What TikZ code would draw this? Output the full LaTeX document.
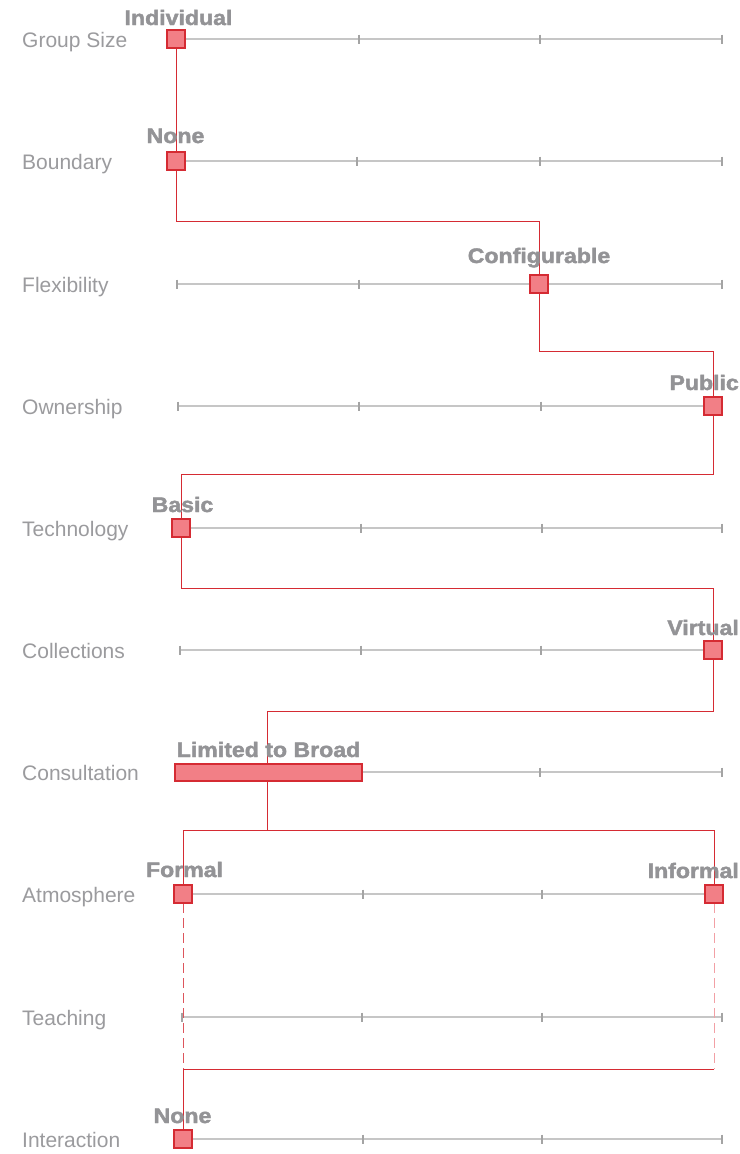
\documentclass[tikz,border=0pt]{standalone}
\usepackage{fontspec}
\setmainfont{Liberation Sans}
\newfontfamily\heavyfont[FakeStretch=1.1,FakeBold=2]{Liberation Sans Bold}
\usepackage{tikz}
\usetikzlibrary{positioning,calc}
\usepackage{xcolor}
\definecolor{railgray}{HTML}{C6C6C6}
\definecolor{notchgray}{HTML}{A4A4A4}
\definecolor{labelgray}{HTML}{9B9B9E}
\definecolor{valuegray}{HTML}{939396}
\definecolor{linkred}{HTML}{D52B33}
\definecolor{linkpink}{HTML}{F2A0A5}
\definecolor{pickfill}{HTML}{F27F86}

\begin{document}
\begin{tikzpicture}[x=1pt, y=-1pt,
  rail/.style={draw=railgray, line width=2.2pt},
  notch/.style={draw=notchgray, line width=2pt},
  axislabel/.style={anchor=base west, inner sep=0pt, text=labelgray, font=\fontsize{21}{24}\selectfont},
  value/.style={anchor=base, inner sep=0pt, text=valuegray, font=\heavyfont\fontsize{21}{24}\selectfont},
  pick/.style={draw=linkred, fill=pickfill, line width=2pt, minimum size=16pt, inner sep=0pt},
  rangebar/.style={draw=linkred, fill=pickfill, line width=2pt, minimum width=185pt, minimum height=15pt, inner sep=0pt},
  link/.style={draw=linkred, line width=1pt},
  dashlink/.style={line width=1pt, dash pattern=on 10pt off 5pt}]
  \fill[white] (0,0) rectangle (739,1154);
  \useasboundingbox (0,0) rectangle (739,1154);

  % rails with notches, and row labels
  \foreach \y/\x/\txt [count=\i] in {39/177/Group Size, 161/175/Boundary, 284/177/Flexibility,
      406/178/Ownership, 528/181/Technology, 650/180/Collections, 772/175/Consultation,
      894/183/Atmosphere, 1017/182/Teaching, 1139/183/Interaction} {
    \draw[rail] (\x,\y) -- (722,\y);
    \foreach \k in {0,1,2,3} {
      \draw[notch] ({\x+(722-\x)*\k/3},\y-4.5) -- ({\x+(722-\x)*\k/3},\y+4.5);
    }
    \node[axislabel] (row\i) at (22,\y+8.5) {\txt};
  }

  % chosen values
  \node[pick] (m1) at (176,39) {};
  \node[pick] (m2) at (176,161) {};
  \node[pick] (m3) at (539,284) {};
  \node[pick] (m4) at (713,406) {};
  \node[pick] (m5) at (181,528) {};
  \node[pick] (m6) at (713,650) {};
  \node[rangebar] (b7) at (268.5,772.5) {};
  \node[pick] (m8a) at (183,894) {};
  \node[pick] (m8b) at (714,894) {};
  \node[pick] (m10) at (183,1139) {};

  % turning points of the path
  \coordinate (j23) at (0,221);
  \coordinate (j34) at (0,351);
  \coordinate (j45) at (0,474);
  \coordinate (j56) at (0,588);
  \coordinate (j67) at (0,711);
  \coordinate (j78) at (0,830);
  \coordinate (j90) at (0,1069);

  \draw[link] (m1.south) -- (m2.north);
  \draw[link] (m2.south) -- (m2 |- j23) -| (m3.north);
  \draw[link] (m3.south) -- (m3 |- j34) -| (m4.north);
  \draw[link] (m4.south) -- (m4 |- j45) -| (m5.north);
  \draw[link] (m5.south) -- (m5 |- j56) -| (m6.north);
  \draw[link] (m6.south) -- (m6 |- j67) -| ([xshift=-1.5pt]b7.north);
  \draw[link] ([xshift=-1.5pt]b7.south) -- ([xshift=-1.5pt]b7.south |- j78);
  \draw[link] (m8a.north) |- (m8b |- j78) -- (m8b.north);
  \draw[dashlink, draw=linkred!80] (m8a.south) -- (m8a |- j90);
  \draw[dashlink, draw=linkpink] (m8b.south) -- (m8b |- j90);
  \draw[link] (m8b |- j90) -- (m8a |- j90) -- (m10.north);

  % value names
  \node[value] (v1) at (178.5,25) {Individual};
  \node[value] (v2) at (175.5,143) {None};
  \node[value] (v3) at (539,263) {Configurable};
  \node[value, anchor=base east] (v4) at (739,390) {Public};
  \node[value] (v5) at (182.5,512) {Basic};
  \node[value, anchor=base east] (v6) at (739,635) {Virtual};
  \node[value] (v7) at (268.5,757) {Limited to Broad};
  \node[value] (v8a) at (184.5,877) {Formal};
  \node[value, anchor=base east] (v8b) at (739,878) {Informal};
  \node[value] (v10) at (182.5,1123) {None};

  % pick boxes on top of the path
  \foreach \n in {m1,m2,m3,m4,m5,m6,b7,m8a,m8b,m10} {
    \draw[draw=linkred, fill=pickfill, line width=2pt] (\n.south west) rectangle (\n.north east);
  }
\end{tikzpicture}
\end{document}
